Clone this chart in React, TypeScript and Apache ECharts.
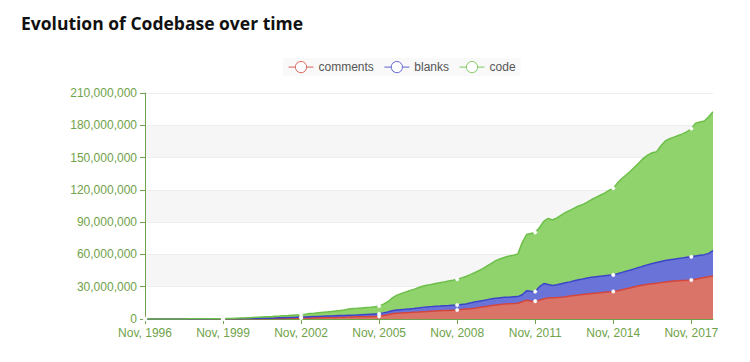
import React, { useEffect, useRef } from "react";
import * as echarts from "echarts";

// Values in millions of lines, sampled every two months from Nov 1996 to Sep 2018
const comments = [
  0, 0, 0, 0, 0, 0.01, 0.01, 0.01, 0.02, 0.02, 0.02, 0.03,
  0.03, 0.03, 0.04, 0.04, 0.05, 0.05, 0.06, 0.08, 0.1, 0.12, 0.14, 0.16,
  0.18, 0.2, 0.24, 0.28, 0.32, 0.36, 0.4, 0.46, 0.52, 0.6, 0.66, 0.72,
  0.8, 0.88, 0.96, 1.05, 1.12, 1.2, 1.3, 1.38, 1.46, 1.55, 1.65, 1.75,
  1.9, 2.0, 2.1, 2.2, 2.3, 2.4, 2.5, 3.3, 4.0, 4.8, 5.3, 5.5,
  5.8, 6.0, 6.3, 6.5, 6.8, 7.0, 7.3, 7.5, 7.7, 7.9, 8.0, 8.2,
  8.4, 8.8, 9.2, 9.6, 10.0, 10.6, 11.3, 11.9, 12.5, 13.0, 13.5, 13.9,
  14.2, 14.4, 14.7, 16.0, 17.5, 16.8, 16.6, 17.5, 18.8, 19.5, 19.8, 20.0,
  20.3, 20.7, 21.3, 21.8, 22.2, 22.7, 23.2, 23.6, 24.0, 24.4, 24.8, 25.2,
  25.6, 26.3, 27.2, 28.2, 29.0, 30.0, 30.8, 31.5, 32.2, 32.8, 33.3, 33.8,
  34.3, 34.8, 35.2, 35.5, 35.8, 36.0, 36.3, 37.0, 37.8, 38.5, 39.2, 40.0,
];

const blanks = [
  0, 0, 0.01, 0.01, 0.01, 0.01, 0.01, 0.02, 0.02, 0.03, 0.04, 0.04,
  0.05, 0.06, 0.06, 0.07, 0.07, 0.09, 0.09, 0.11, 0.13, 0.15, 0.17, 0.19,
  0.22, 0.28, 0.32, 0.36, 0.4, 0.44, 0.5, 0.59, 0.68, 0.75, 0.84, 0.93,
  1.0, 1.07, 1.14, 1.2, 1.28, 1.35, 1.4, 1.47, 1.54, 1.6, 1.65, 1.7,
  1.7, 1.8, 1.9, 2.0, 2.1, 2.2, 2.3, 2.4, 2.5, 2.8, 3.1, 3.2,
  3.2, 3.4, 3.5, 3.8, 4.0, 4.2, 4.2, 4.3, 4.3, 4.4, 4.5, 4.6,
  4.6, 4.7, 4.8, 5.3, 5.8, 5.9, 5.9, 6.1, 6.3, 6.3, 6.3, 6.2,
  6.1, 6.2, 6.1, 6.5, 8.8, 9.0, 8.9, 12.5, 14.2, 12.5, 11.4, 11.8,
  12.5, 13.0, 13.2, 13.7, 14.3, 14.5, 14.8, 15.2, 15.3, 15.4, 15.4, 15.4,
  15.4, 15.7, 16.1, 16.3, 16.5, 16.8, 17.2, 17.8, 18.3, 18.7, 19.2, 19.7,
  20.0, 20.2, 20.4, 20.7, 21.0, 21.3, 21.5, 21.5, 21.4, 21.3, 21.8, 23.5,
];

const code = [
  0, 0, 0, 0.01, 0.02, 0.02, 0.03, 0.03, 0.04, 0.05, 0.06, 0.07,
  0.08, 0.11, 0.12, 0.14, 0.16, 0.16, 0.2, 0.26, 0.32, 0.43, 0.54, 0.65,
  0.8, 0.92, 1.04, 1.16, 1.28, 1.4, 1.6, 1.65, 1.8, 1.85, 2.0, 2.15,
  2.3, 2.55, 2.9, 3.15, 3.5, 3.65, 3.9, 4.15, 4.5, 4.65, 5.0, 5.95,
  6.2, 6.2, 6.3, 6.4, 6.5, 6.7, 7.2, 8.1, 9.5, 11.9, 13.6, 14.9,
  16.0, 16.9, 17.7, 18.7, 19.7, 20.1, 20.5, 21.1, 21.7, 22.2, 22.8, 23.3,
  24.0, 24.7, 25.5, 26.3, 27.2, 28.5, 29.8, 31.5, 33.2, 35.2, 36.2, 37.2,
  38.2, 38.7, 39.7, 48.5, 52.2, 53.7, 55.0, 55.0, 58.0, 61.5, 60.8, 62.2,
  63.7, 65.3, 66.5, 67.5, 68.5, 69.3, 70.5, 72.2, 73.7, 75.2, 76.8, 78.9,
  80.5, 84.5, 87.2, 89.5, 92.0, 94.7, 97.5, 100.2, 102.0, 103.0, 103.0, 107.5,
  111.2, 112.5, 113.4, 114.3, 115.2, 116.7, 119.2, 123.5, 123.8, 124.2, 127.0, 129.0,
];

const monthNames = ["Jan", "Feb", "Mar", "Apr", "May", "Jun", "Jul", "Aug", "Sep", "Oct", "Nov", "Dec"];
const startYear = 1996;
const startMonth = 10; // November
const stepMonths = 2;
const categories: string[] = comments.map((_, i) => {
  const m = startMonth + i * stepMonths;
  return `${monthNames[m % 12]}, ${startYear + Math.floor(m / 12)}`;
});

const seriesNames = ["comments", "blanks", "code"];
const lineColors = ["#d4463c", "#3c45c8", "#6cc04a"];
const legendColors = ["#d9635a", "#5c63cf", "#7fcb62"];
const areaColors = ["#da7368", "#6a73d8", "#90d26c"];
const MILLION = 1000000;

export default function App() {
  const ref = useRef<HTMLDivElement>(null);
  useEffect(() => {
    if (!ref.current) return;
    const chart = echarts.init(ref.current, undefined, { renderer: "svg" });
    const axisGreen = "#6fa24a";
    const data = [comments, blanks, code];
    chart.setOption({
      animation: false,
      title: {
        text: "Evolution of Codebase over time",
        left: 16,
        top: 9,
        textStyle: {
          fontFamily: "Open Sans",
          fontWeight: 700,
          fontSize: 17.5,
          color: "#111",
        },
      },
      legend: {
        data: seriesNames.map((name, k) => ({
          name,
          itemStyle: { color: "#ffffff", borderColor: legendColors[k], borderWidth: 1 },
          lineStyle: { color: legendColors[k], width: 1 },
        })),
        left: 283,
        top: 58,
        itemWidth: 25,
        itemHeight: 14,
        itemGap: 10,
        padding: [3, 5],
        backgroundColor: "#f9f9f9",
        textStyle: { color: "#555", fontSize: 12, fontFamily: "Arial, Liberation Sans, sans-serif" },
      },
      grid: { left: 145, right: 37, top: 93, bottom: 43, containLabel: false },
      xAxis: {
        type: "category",
        boundaryGap: false,
        data: categories,
        axisLine: { lineStyle: { color: axisGreen, width: 1 } },
        axisTick: { interval: 17, lineStyle: { color: axisGreen } },
        axisLabel: {
          interval: 17,
          color: axisGreen,
          fontSize: 12,
          margin: 8,
          fontFamily: "Arial, Liberation Sans, sans-serif",
        },
      },
      yAxis: {
        type: "value",
        min: 0,
        max: 210 * MILLION,
        interval: 30 * MILLION,
        axisLine: { show: true, lineStyle: { color: axisGreen } },
        axisTick: { show: true, lineStyle: { color: axisGreen } },
        axisLabel: {
          color: axisGreen,
          fontSize: 12,
          fontFamily: "Arial, Liberation Sans, sans-serif",
          formatter: (v: number) => v.toLocaleString("en-US"),
        },
        splitLine: { show: true, lineStyle: { color: "#eeeeee" } },
        splitArea: { show: true, areaStyle: { color: ["#ffffff", "#f6f6f6"] } },
      },
      series: seriesNames.map((name, k) => ({
        name,
        type: "line",
        stack: "total",
        data: data[k].map((v) => v * MILLION),
        symbol: "circle",
        symbolSize: 3.5,
        showAllSymbol: "auto",
        lineStyle: { color: lineColors[k], width: 1.5 },
        itemStyle: { color: "#ffffff", borderColor: "#f2f2f2", borderWidth: 0.5 },
        areaStyle: { color: areaColors[k], opacity: 1 },
      })),
    });
    return () => chart.dispose();
  }, []);
  return (
    <div
      ref={ref}
      style={{ position: "absolute", left: 0, top: 0, width: 750, height: 362 }}
    />
  );
}
